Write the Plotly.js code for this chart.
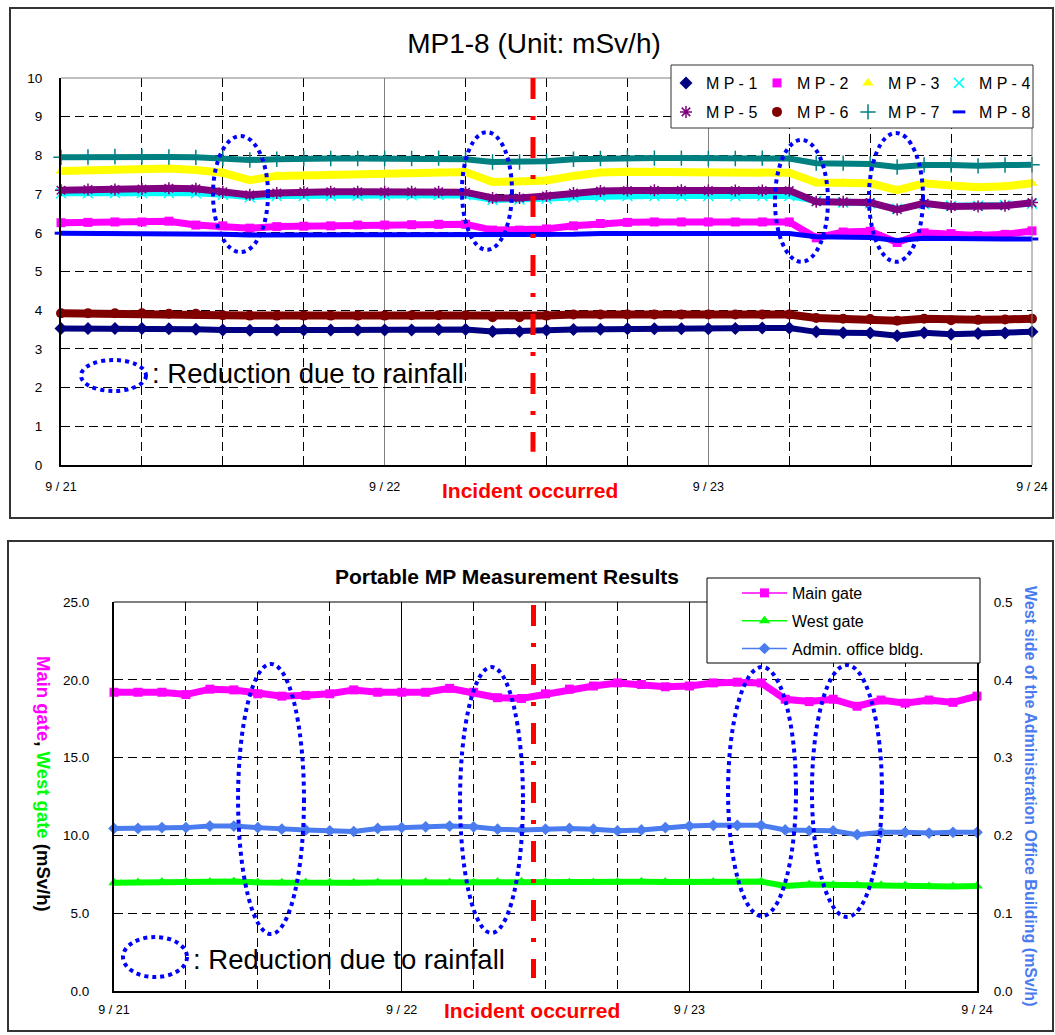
<!DOCTYPE html>
<html>
<head>
<meta charset="utf-8">
<script src="https://cdn.plot.ly/plotly-3.0.1.min.js"></script>
<style>html,body{margin:0;padding:0;background:#fff;}</style>
</head>
<body>
<div id="chart" style="width:1055px;height:1035px;"></div>
<script>
// ---------------- DATA ----------------
// sample times in hours after 9/21 00:00 (every 2 hours up to 9/24 00:00)
const hours = [0,2,4,6,8,10,12,14,16,18,20,22,24,26,28,30,32,34,36,38,40,42,44,46,48,50,52,54,56,58,60,62,64,66,68,70,72];
const dayTicks = [0, 24, 48, 72];
const dayLabels = ['9 / 21', '9 / 22', '9 / 23', '9 / 24'];

// Top chart: MP1-8 (mSv/h)
const mp1 = [3.53,3.53,3.53,3.53,3.52,3.51,3.49,3.48,3.49,3.49,3.49,3.49,3.49,3.49,3.50,3.50,3.45,3.45,3.48,3.50,3.51,3.52,3.52,3.52,3.52,3.53,3.54,3.54,3.44,3.42,3.41,3.34,3.42,3.38,3.40,3.41,3.44];
const mp2 = [6.26,6.27,6.28,6.28,6.30,6.20,6.18,6.12,6.16,6.17,6.18,6.20,6.20,6.21,6.22,6.22,6.07,6.07,6.10,6.18,6.24,6.27,6.28,6.28,6.28,6.28,6.28,6.28,5.87,6.02,6.04,5.75,6.00,5.98,5.93,5.96,6.05];
const mp3 = [7.60,7.62,7.63,7.64,7.66,7.62,7.55,7.36,7.47,7.48,7.49,7.50,7.51,7.52,7.55,7.57,7.31,7.31,7.35,7.47,7.56,7.58,7.58,7.57,7.55,7.55,7.55,7.55,7.30,7.30,7.28,7.10,7.28,7.22,7.18,7.20,7.28];
const mp4 = [7.02,7.02,7.03,7.03,7.03,7.02,6.98,6.92,6.95,6.95,6.96,6.96,6.97,6.97,6.98,6.97,6.85,6.86,6.88,6.92,6.94,6.95,6.95,6.95,6.95,6.95,6.95,6.95,6.82,6.78,6.76,6.62,6.74,6.70,6.70,6.72,6.75];
const mp5 = [7.10,7.12,7.12,7.13,7.15,7.14,7.06,6.98,7.03,7.06,7.06,7.06,7.06,7.06,7.06,7.05,6.90,6.90,6.95,7.03,7.08,7.09,7.10,7.10,7.09,7.09,7.09,7.09,6.80,6.80,6.78,6.60,6.76,6.68,6.68,6.70,6.78];
const mp6 = [3.92,3.92,3.92,3.92,3.91,3.91,3.87,3.86,3.86,3.86,3.86,3.86,3.86,3.87,3.87,3.87,3.82,3.82,3.86,3.89,3.89,3.89,3.89,3.89,3.89,3.89,3.89,3.89,3.80,3.78,3.77,3.73,3.78,3.74,3.75,3.76,3.78];
const mp7 = [7.95,7.96,7.97,7.97,7.96,7.95,7.92,7.88,7.90,7.92,7.92,7.92,7.92,7.92,7.93,7.90,7.83,7.83,7.85,7.90,7.92,7.93,7.93,7.93,7.92,7.92,7.93,7.92,7.80,7.80,7.78,7.70,7.75,7.75,7.73,7.75,7.76];
const mp8 = [5.99,5.99,5.99,5.98,5.98,5.97,5.96,5.94,5.95,5.95,5.95,5.95,5.95,5.95,5.95,5.95,5.93,5.93,5.94,5.96,5.98,5.98,5.98,5.98,5.98,5.98,5.98,5.98,5.90,5.89,5.88,5.80,5.86,5.85,5.83,5.84,5.84];
const topNames = ['M P - 1','M P - 2','M P - 3','M P - 4','M P - 5','M P - 6','M P - 7','M P - 8'];

// Bottom chart: portable MP (mSv/h)
const mainGate = [19.2,19.2,19.2,19.05,19.4,19.35,19.1,18.95,19.0,19.1,19.35,19.2,19.2,19.2,19.45,19.2,18.85,18.8,19.1,19.4,19.6,19.8,19.7,19.55,19.6,19.8,19.85,19.8,18.75,18.6,18.75,18.3,18.7,18.5,18.7,18.55,18.95];
const westGate = [6.95,6.97,7.0,7.02,7.0,7.03,6.98,6.95,6.97,6.98,6.95,6.97,6.98,7.0,6.98,6.97,7.0,7.02,7.0,6.97,6.98,7.0,7.02,7.0,6.98,7.0,7.02,7.03,6.75,6.85,6.82,6.8,6.8,6.78,6.72,6.72,6.75];
const adminBldg = [0.209,0.209,0.210,0.210,0.212,0.212,0.210,0.208,0.207,0.206,0.205,0.209,0.210,0.211,0.212,0.211,0.208,0.207,0.208,0.209,0.208,0.206,0.207,0.210,0.212,0.213,0.213,0.213,0.207,0.206,0.206,0.201,0.204,0.204,0.203,0.204,0.204];
const bottomNames = ['Main gate', 'West gate', 'Admin. office bldg.'];

// incident time (hours after 9/21 00:00)
const incidentHour = 35;
// rainfall ellipses [x0, x1, y0, y1] in hours / mSv/h
const rainTop = [[11.27,15.35,5.50,8.50],[29.73,33.44,5.56,8.60],[52.94,56.87,5.25,8.40],[59.91,63.92,5.25,8.58]];
const rainBottom = [[10.35,15.85,3.66,21.02],[28.87,34.12,3.73,20.82],[51.23,56.90,4.82,20.82],[58.23,64.07,4.76,20.95]];

// ---------------- LAYOUT HELPERS ----------------
const FONT = 'Arial, "Liberation Sans", sans-serif';
const W = 1055, H = 1035;
const X = px => px / W;
const Y = py => 1 - py / H;

const topSeries = [mp1, mp2, mp3, mp4, mp5, mp6, mp7, mp8];
const topColors = ['#000080','#FF00FF','#FFFF00','#00FFFF','#800080','#800000','#008080','#0000FF'];
const topSymbols = ['diamond','square','triangle-up','x-thin-open','asterisk-open','circle','cross-thin-open','line-ew-open'];
const topSizes = [10,9,10,10,10,10,11,9];
const topLineW = [0,0,0,1.5,1.5,0,1.5,3];
const topBand = [6,7,8,6,7,8,6,5];

const traces = [];
topSeries.forEach((vals, i) => {
  traces.push({
    x: hours, y: vals, xaxis: 'x', yaxis: 'y', mode: 'lines',
    line: {color: topColors[i], width: topBand[i]}, showlegend: false, hoverinfo: 'skip'
  });
  traces.push({
    x: hours, y: vals, xaxis: 'x', yaxis: 'y', mode: 'markers', name: topNames[i],
    legend: i < 4 ? 'legend' : 'legend2', cliponaxis: false,
    marker: {symbol: topSymbols[i], size: topSizes[i], color: topColors[i],
             line: {color: topColors[i], width: topLineW[i]}}
  });
});

const botSeries = [mainGate, westGate, adminBldg];
const botColors = ['#FF00FF', '#00FF00', '#4A7CF0'];
const botSymbols = ['square', 'triangle-up', 'diamond'];
const botSizes = [9, 10, 9];
const botBand = [7, 6, 5];
const botY = ['y2', 'y2', 'y3'];
botSeries.forEach((vals, i) => {
  traces.push({
    x: hours, y: vals, xaxis: 'x2', yaxis: botY[i], mode: 'lines',
    line: {color: botColors[i], width: botBand[i]}, showlegend: false, hoverinfo: 'skip'
  });
  traces.push({
    x: hours, y: vals, xaxis: 'x2', yaxis: botY[i], mode: 'lines+markers', name: bottomNames[i],
    legend: 'legend3', legendgroup: 'g' + i, cliponaxis: false,
    line: {color: botColors[i], width: 1.5},
    marker: {symbol: botSymbols[i], size: botSizes[i], color: botColors[i], line: {width: 0}}
  });
});

const dash = '9px,5px';
const xCommon = {
  range: [0, 72], tickmode: 'array', tickvals: dayTicks, ticktext: dayLabels,
  showgrid: true, gridwidth: 1,
  minor: {dtick: 6, tick0: 0, showgrid: true, gridcolor: '#000', griddash: dash, gridwidth: 1},
  showline: true, linecolor: '#000', linewidth: 2, ticks: '', zeroline: false,
  tickfont: {family: FONT, size: 12.5, color: '#000'}, fixedrange: true
};

const shapes = [];
// panel frames
shapes.push({type: 'rect', xref: 'paper', yref: 'paper', x0: X(10), x1: X(1053), y0: Y(518), y1: Y(8),
  line: {color: '#333', width: 2}, layer: 'below'});
shapes.push({type: 'rect', xref: 'paper', yref: 'paper', x0: X(8), x1: X(1053), y0: Y(1031), y1: Y(541),
  line: {color: '#333', width: 2}, layer: 'below'});
// top plot border (top + right, gray)
shapes.push({type: 'line', xref: 'x domain', yref: 'y domain', x0: 0, x1: 1, y0: 1, y1: 1, line: {color: '#808080', width: 1}, layer: 'above'});
shapes.push({type: 'line', xref: 'x domain', yref: 'y domain', x0: 1, x1: 1, y0: 0, y1: 1, line: {color: '#808080', width: 1}, layer: 'above'});
// bottom plot top border
shapes.push({type: 'line', xref: 'x2 domain', yref: 'y2 domain', x0: 0, x1: 1, y0: 1, y1: 1, line: {color: '#000', width: 1}, layer: 'above'});
// rainfall ellipses
rainTop.forEach(e => shapes.push({type: 'circle', xref: 'x', yref: 'y', x0: e[0], x1: e[1], y0: e[2], y1: e[3],
  line: {color: '#0000FF', width: 4, dash: 'dot'}, layer: 'above'}));
rainBottom.forEach(e => shapes.push({type: 'circle', xref: 'x2', yref: 'y2', x0: e[0], x1: e[1], y0: e[2], y1: e[3],
  line: {color: '#0000FF', width: 4, dash: 'dot'}, layer: 'above'}));
// key ellipses
shapes.push({type: 'circle', xref: 'paper', yref: 'paper', x0: X(81), x1: X(146), y0: Y(391), y1: Y(360),
  line: {color: '#0000FF', width: 4, dash: 'dot'}, layer: 'above'});
shapes.push({type: 'circle', xref: 'paper', yref: 'paper', x0: X(123), x1: X(187), y0: Y(977), y1: Y(937),
  line: {color: '#0000FF', width: 4, dash: 'dot'}, layer: 'above'});
// incident lines
const incDash = '21px,17px,4px,17px';
shapes.push({type: 'line', xref: 'x', yref: 'y', x0: incidentHour, x1: incidentHour, y0: 10, y1: 0.34,
  line: {color: '#FF0000', width: 5, dash: incDash}, layer: 'above'});
shapes.push({type: 'line', xref: 'x2', yref: 'y2', x0: incidentHour, x1: incidentHour, y0: 24.8, y1: 0.84,
  line: {color: '#FF0000', width: 5, dash: incDash}, layer: 'above'});
// legend boxes
shapes.push({type: 'rect', xref: 'paper', yref: 'paper', x0: X(671), x1: X(1033), y0: Y(128), y1: Y(65),
  fillcolor: '#fff', line: {color: '#333', width: 1}, layer: 'above'});
shapes.push({type: 'rect', xref: 'paper', yref: 'paper', x0: X(707), x1: X(980), y0: Y(663), y1: Y(578),
  fillcolor: '#fff', line: {color: '#000', width: 1}, layer: 'above'});

const annotations = [
  {text: '<b>Portable MP Measurement Results</b>', x: X(507), y: Y(576), font: {size: 21}},
  {text: '<b>Incident occurred</b>', x: X(530), y: Y(490), font: {size: 21, color: '#FF0000'}},
  {text: '<b>Incident occurred</b>', x: X(532), y: Y(1010), font: {size: 21, color: '#FF0000'}},
  {text: ': Reduction due to rainfall', x: X(150), y: Y(373), xanchor: 'left', font: {size: 27.5}},
  {text: ': Reduction due to rainfall', x: X(191), y: Y(959), xanchor: 'left', font: {size: 27.5}},
  {text: "<b><span style='color:#FF00FF'>Main gate</span>, <span style='color:#00FF00'>West gate</span> (mSv/h)</b>",
   x: X(44), y: Y(784), textangle: 90, font: {size: 18.5}},
  {text: '<b>West side of the Administration Office Building (mSv/h)</b>',
   x: X(1031), y: Y(796), textangle: 90, font: {size: 16, color: '#4A7CF0'}}
].map(a => Object.assign({xref: 'paper', yref: 'paper', showarrow: false, xanchor: 'center', yanchor: 'middle'}, a,
  {font: Object.assign({family: FONT, color: '#000'}, a.font)}));

const legendCommon = {
  orientation: 'h', xanchor: 'left', yanchor: 'middle', bgcolor: 'rgba(0,0,0,0)', borderwidth: 0,
  font: {family: FONT, size: 16, color: '#000'}, entrywidth: 46, itemclick: false, itemdoubleclick: false
};

const layout = {
  width: W, height: H,
  margin: {l: 0, r: 0, t: 0, b: 0, pad: 0},
  paper_bgcolor: '#fff', plot_bgcolor: '#fff',
  font: {family: FONT, color: '#000'},
  title: {text: 'MP1-8 (Unit: mSv/h)', x: X(534), xanchor: 'center', y: Y(43), yanchor: 'middle',
          font: {family: FONT, size: 28, color: '#000'}},
  showlegend: true,
  legend: Object.assign({}, legendCommon, {x: X(666), y: Y(83)}),
  legend2: Object.assign({}, legendCommon, {x: X(666), y: Y(112)}),
  legend3: {orientation: 'v', x: X(737), xanchor: 'left', y: Y(576), yanchor: 'top', bgcolor: 'rgba(0,0,0,0)',
            borderwidth: 0, tracegroupgap: 4, itemwidth: 45, font: {family: FONT, size: 16, color: '#000'},
            itemclick: false, itemdoubleclick: false},
  xaxis: Object.assign({}, xCommon, {domain: [X(61), X(1032)], anchor: 'y', gridcolor: '#808080', ticklabelstandoff: 9}),
  yaxis: {domain: [Y(465), Y(78)], range: [0, 10], dtick: 1, tick0: 0, anchor: 'x',
          showgrid: true, gridcolor: '#000', griddash: dash, gridwidth: 1,
          showline: true, linecolor: '#000', linewidth: 2, ticks: '', zeroline: false,
          tickfont: {family: FONT, size: 13.5, color: '#000'}, ticklabelstandoff: 14, fixedrange: true},
  xaxis2: Object.assign({}, xCommon, {domain: [X(114), X(977)], anchor: 'y2', gridcolor: '#000', ticklabelstandoff: 6}),
  yaxis2: {domain: [Y(991), Y(602)], range: [0, 25], dtick: 5, tick0: 0, tickformat: '.1f', anchor: 'x2',
           showgrid: true, gridcolor: '#000', griddash: dash, gridwidth: 1,
           showline: true, linecolor: '#000', linewidth: 2, ticks: '', zeroline: false,
           tickfont: {family: FONT, size: 13.5, color: '#000'}, ticklabelstandoff: 20, fixedrange: true},
  yaxis3: {overlaying: 'y2', side: 'right', anchor: 'x2', range: [0, 0.5], dtick: 0.1, tick0: 0, tickformat: '.1f',
           showgrid: false, showline: true, linecolor: '#000', linewidth: 2, ticks: '', zeroline: false,
           tickfont: {family: FONT, size: 13.5, color: '#000'}, ticklabelstandoff: 12, fixedrange: true},
  shapes: shapes,
  annotations: annotations,
  hovermode: false
};

Plotly.newPlot('chart', traces, layout, {displayModeBar: false, staticPlot: true});
</script>
</body>
</html>
